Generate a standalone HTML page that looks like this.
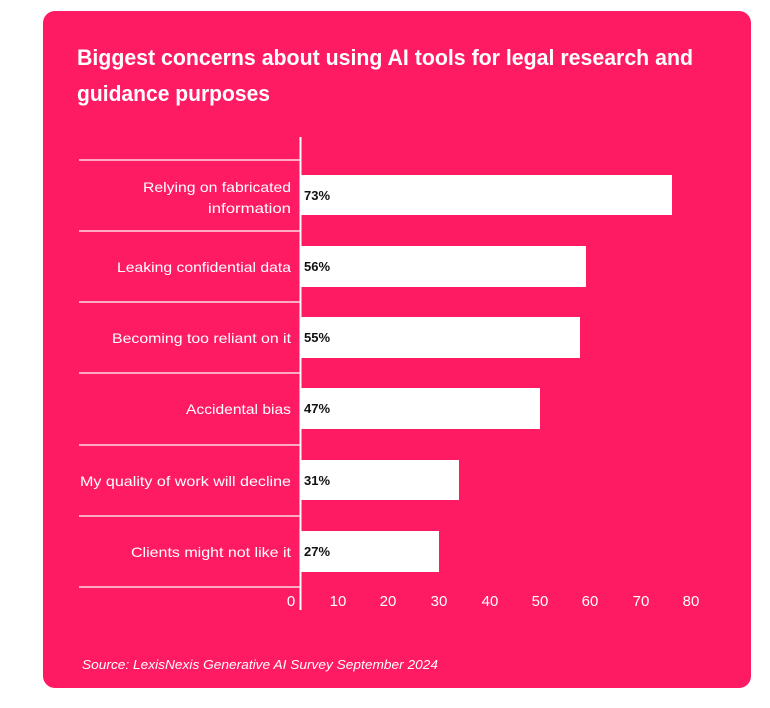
<!DOCTYPE html>
<html><head><style>html,body{margin:0;padding:0;background:#fff;}svg{display:block;}</style></head>
<body>
<svg width="770" height="708" xmlns="http://www.w3.org/2000/svg" font-family="Liberation Sans, sans-serif">
<rect x="43" y="11" width="708" height="677" rx="12" fill="#FF1A64"/>
<g fill="#fff" font-weight="bold" font-size="22">
<text x="77" y="65" textLength="616" lengthAdjust="spacingAndGlyphs">Biggest concerns about using AI tools for legal research and</text>
<text x="77" y="101" textLength="193" lengthAdjust="spacingAndGlyphs">guidance purposes</text>
</g>
<g stroke="#fff" stroke-width="1.2">
<line x1="79" y1="160" x2="300" y2="160"/><line x1="79" y1="231" x2="300" y2="231"/>
<line x1="79" y1="302" x2="300" y2="302"/><line x1="79" y1="373" x2="300" y2="373"/>
<line x1="79" y1="445" x2="300" y2="445"/><line x1="79" y1="516" x2="300" y2="516"/>
<line x1="79" y1="587" x2="300" y2="587"/>
</g>
<g fill="#fff">
<rect x="301" y="175" width="371" height="40"/>
<rect x="301" y="246" width="285" height="41"/>
<rect x="301" y="317" width="279" height="41"/>
<rect x="301" y="388" width="239" height="41"/>
<rect x="301" y="460" width="158" height="40"/>
<rect x="301" y="531" width="138" height="41"/>
</g>
<line x1="300.5" y1="137" x2="300.5" y2="610" stroke="#fff" stroke-width="2"/>
<g fill="#fff" font-size="14" text-anchor="end">
<text x="291" y="192" textLength="148" lengthAdjust="spacingAndGlyphs">Relying on fabricated</text>
<text x="291" y="213" textLength="83" lengthAdjust="spacingAndGlyphs">information</text>
<text x="291" y="272" textLength="174" lengthAdjust="spacingAndGlyphs">Leaking confidential data</text>
<text x="291" y="343" textLength="179" lengthAdjust="spacingAndGlyphs">Becoming too reliant on it</text>
<text x="291" y="414" textLength="105" lengthAdjust="spacingAndGlyphs">Accidental bias</text>
<text x="291" y="486" textLength="211" lengthAdjust="spacingAndGlyphs">My quality of work will decline</text>
<text x="291" y="557" textLength="160" lengthAdjust="spacingAndGlyphs">Clients might not like it</text>
</g>
<g fill="#111" font-size="13" font-weight="bold">
<text x="304" y="200">73%</text>
<text x="304" y="271">56%</text>
<text x="304" y="342">55%</text>
<text x="304" y="413">47%</text>
<text x="304" y="485">31%</text>
<text x="304" y="556">27%</text>
</g>
<g fill="#fff" font-size="15" text-anchor="middle">
<text x="291" y="606">0</text><text x="338" y="606">10</text><text x="388" y="606">20</text>
<text x="439" y="606">30</text><text x="490" y="606">40</text><text x="540" y="606">50</text>
<text x="590" y="606">60</text><text x="641" y="606">70</text><text x="691" y="606">80</text>
</g>
<text x="82" y="669" fill="#fff" font-size="13" font-style="italic" textLength="356" lengthAdjust="spacingAndGlyphs">Source: LexisNexis Generative AI Survey September 2024</text>
</svg>
</body></html>
